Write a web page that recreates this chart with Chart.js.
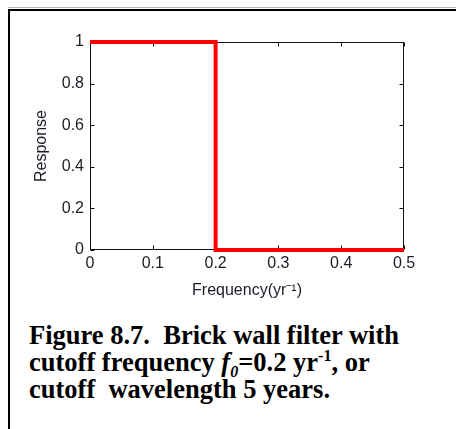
<!DOCTYPE html>
<html><head><meta charset="utf-8">
<script src="https://cdn.jsdelivr.net/npm/chart.js@4.4.0/dist/chart.umd.min.js"></script>
<style>
html,body{margin:0;padding:0;background:#fff;width:456px;height:429px;overflow:hidden;position:relative}
#frame{position:absolute;left:8px;top:9px;width:460px;height:430px;border-left:2px solid #000;border-top:2px solid #000}
#gray{position:absolute;left:8px;top:7px;width:460px;height:1px;background:#b8b8b8}
#c{position:absolute;left:0;top:0}
#cap{position:absolute;left:29px;top:322px;font:bold 26.5px "Liberation Serif","Times New Roman",serif;line-height:27px;color:#000;white-space:nowrap}
#cap sup,#cap sub{font-size:16px;line-height:0}
</style></head>
<body>
<div id="gray"></div><div id="frame"></div>
<canvas id="c" width="456" height="310"></canvas>
<div id="cap">Figure 8.7.&nbsp; Brick wall filter with<br>cutoff frequency <i>f<sub>0</sub></i>=0.2 yr<sup>-1</sup>, or<br>cutoff&nbsp; wavelength 5 years.</div>
<script>
const frequency = [0, 0.2, 0.2, 0.5];
const response = [1, 1, 0, 0];
const xTickValues = [0, 0.1, 0.2, 0.3, 0.4, 0.5];
const xTickLabels = ['0', '0.1', '0.2', '0.3', '0.4', '0.5'];
const yTickValues = [0, 0.2, 0.4, 0.6, 0.8, 1];
const yTickLabels = ['0', '0.2', '0.4', '0.6', '0.8', '1'];
const xTitle = 'Frequency(yr\u207B\u00B9)';
const yTitle = 'Response';

const labelFor = (vals, labs) => v => {
  const i = vals.findIndex(t => Math.abs(t - v) < 1e-9);
  return i >= 0 ? labs[i] : '';
};
const font = {family: '"Liberation Sans", Arial, sans-serif', size: 16};
const textColor = '#1c1c28';

const boxTicks = {
  id: 'boxTicks',
  beforeDatasetsDraw(chart) {
    const {ctx, chartArea: a, scales: {x, y}} = chart;
    const L = Math.round(a.left) + 0.5, T = Math.round(a.top) + 0.5;
    const R = Math.round(a.right) - 0.5, B = Math.round(a.bottom) - 0.5;
    ctx.save();
    ctx.strokeStyle = '#111';
    ctx.lineWidth = 1;
    ctx.strokeRect(L, T, R - L, B - T);
    const tl = 4;
    ctx.beginPath();
    xTickValues.forEach(v => {
      const px = Math.round(x.getPixelForValue(v)) + 0.5;
      ctx.moveTo(px, B); ctx.lineTo(px, B - tl);
      ctx.moveTo(px, T); ctx.lineTo(px, T + tl);
    });
    yTickValues.forEach(v => {
      const py = Math.round(y.getPixelForValue(v)) + 0.5;
      ctx.moveTo(L, py); ctx.lineTo(L + tl, py);
      ctx.moveTo(R, py); ctx.lineTo(R - tl, py);
    });
    ctx.stroke();
    ctx.restore();
  }
};

new Chart(document.getElementById('c'), {
  type: 'scatter',
  data: {
    datasets: [{
      data: frequency.map((f, i) => ({x: f, y: response[i]})),
      showLine: true,
      borderColor: '#ff0000',
      borderWidth: 4,
      pointRadius: 0,
      pointHoverRadius: 0,
      fill: false,
      tension: 0,
      clip: false
    }]
  },
  options: {
    responsive: false,
    animation: false,
    events: [],
    layout: {padding: {left: 0, top: 42, right: 52, bottom: 0}},
    plugins: {legend: {display: false}, tooltip: {enabled: false}},
    scales: {
      x: {
        type: 'linear', min: 0, max: 0.5,
        afterBuildTicks: s => { s.ticks = xTickValues.map(v => ({value: v})); },
        afterFit: s => { s.height = 60; },
        grid: {display: false, drawTicks: false},
        border: {display: false},
        ticks: {callback: labelFor(xTickValues, xTickLabels), padding: 4, color: textColor, font, maxRotation: 0, autoSkip: false},
        title: {display: true, text: xTitle, color: textColor, font, padding: {top: 0, bottom: 10}}
      },
      y: {
        type: 'linear', min: 0, max: 1,
        afterBuildTicks: s => { s.ticks = yTickValues.map(v => ({value: v})); },
        afterFit: s => { s.width = 90; },
        grid: {display: false, drawTicks: false},
        border: {display: false},
        ticks: {callback: labelFor(yTickValues, yTickLabels), padding: 6, color: textColor, font, autoSkip: false},
        title: {display: true, text: yTitle, color: textColor, font, padding: {top: 32, bottom: 0}}
      }
    }
  },
  plugins: [boxTicks]
});
</script>
</body></html>
